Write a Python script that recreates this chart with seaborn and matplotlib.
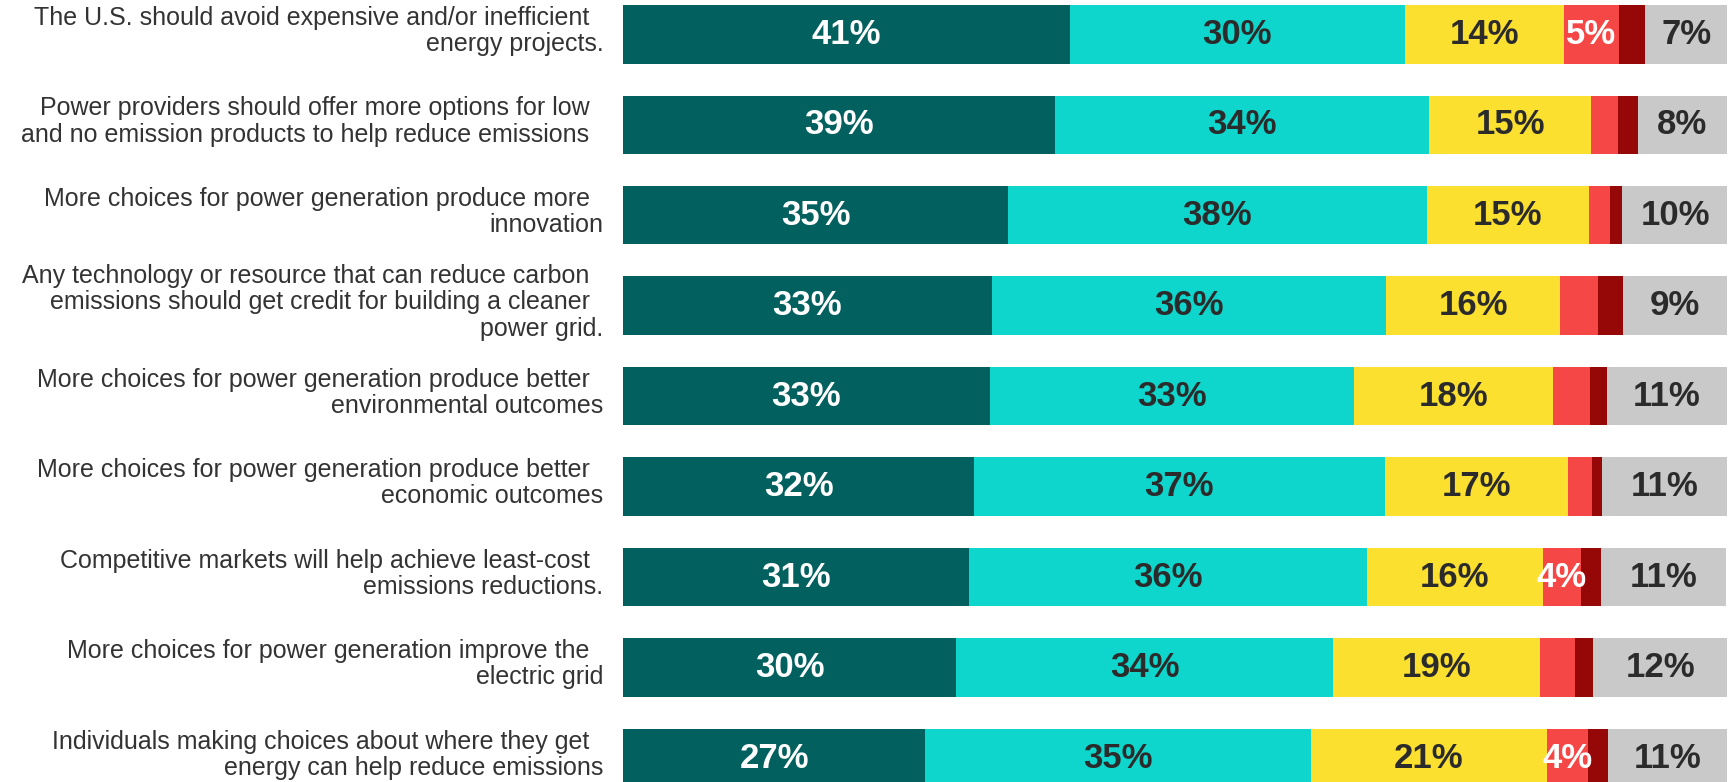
import numpy as np
import pandas as pd
import matplotlib
matplotlib.use("Agg")
import matplotlib.pyplot as plt
import matplotlib.transforms as mtransforms
import seaborn as sns

## data (share of respondents, %)

statements = [
    "The U.S. should avoid expensive and/or inefficient  \nenergy projects.",
    "Power providers should offer more options for low  \nand no emission products to help reduce emissions  ",
    "More choices for power generation produce more  \ninnovation",
    "Any technology or resource that can reduce carbon  \nemissions should get credit for building a cleaner  \npower grid.",
    "More choices for power generation produce better  \nenvironmental outcomes",
    "More choices for power generation produce better  \neconomic outcomes",
    "Competitive markets will help achieve least-cost  \nemissions reductions.",
    "More choices for power generation improve the  \nelectric grid",
    "Individuals making choices about where they get  \nenergy can help reduce emissions",
]

strongly_agree = [40.5, 39.1, 34.9, 33.4, 33.2, 31.8, 31.3, 30.2, 27.4]
somewhat_agree = [30.3, 33.9, 37.9, 35.7, 33.0, 37.2, 36.1, 34.1, 34.9]
neutral = [14.4, 14.7, 14.7, 15.8, 18.0, 16.6, 15.9, 18.8, 21.4]
somewhat_disagree = [5.0, 2.4, 1.9, 3.4, 3.4, 2.2, 3.5, 3.1, 3.7]
strongly_disagree = [2.4, 1.8, 1.1, 2.3, 1.5, 0.9, 1.8, 1.7, 1.8]
dont_know = [7.5, 8.1, 9.6, 9.4, 10.9, 11.3, 11.3, 12.2, 10.8]

# printed labels (small segments are left unlabeled in the original)
strongly_agree_lbl = ["41%", "39%", "35%", "33%", "33%", "32%", "31%", "30%", "27%"]
somewhat_agree_lbl = ["30%", "34%", "38%", "36%", "33%", "37%", "36%", "34%", "35%"]
neutral_lbl = ["14%", "15%", "15%", "16%", "18%", "17%", "16%", "19%", "21%"]
somewhat_disagree_lbl = ["5%", "", "", "", "", "", "4%", "", "4%"]
strongly_disagree_lbl = ["", "", "", "", "", "", "", "", ""]
dont_know_lbl = ["7%", "8%", "10%", "9%", "11%", "11%", "11%", "12%", "11%"]

values = [strongly_agree, somewhat_agree, neutral, somewhat_disagree, strongly_disagree, dont_know]
labels = [strongly_agree_lbl, somewhat_agree_lbl, neutral_lbl, somewhat_disagree_lbl,
          strongly_disagree_lbl, dont_know_lbl]
colors = ["#02605E", "#0FD6CC", "#FCE030", "#F64747", "#960808", "#C9C9C9"]
text_colors = ["white", "#2B2B2B", "#2B2B2B", "white", "white", "#2B2B2B"]

## plot

sns.set_style("white")
plt.rcParams['font.family'] = ['Liberation Sans', 'DejaVu Sans']

fig, ax = plt.subplots(figsize=(17.36, 7.82), dpi=100)
fig.subplots_adjust(left=623 / 1736, right=1727 / 1736, top=1, bottom=0)

# stacked bars: draw cumulative totals from the last segment back to the first
cum = np.cumsum(np.array(values), axis=0)
df = pd.DataFrame({"statement": statements})
for i in reversed(range(len(values))):
    df["cum"] = cum[i]
    sns.barplot(data=df, x="cum", y="statement", orient="h", color=colors[i],
                saturation=1, width=0.646, linewidth=0, ax=ax)

# percentage labels in the middle of each segment
for i in range(len(values)):
    starts = cum[i] - np.array(values[i])
    for row, (s, v, lbl) in enumerate(zip(starts, values[i], labels[i])):
        if lbl:
            ax.text(s + v / 2, row, lbl, ha="center", va="center", fontsize=25,
                    fontweight="bold", color=text_colors[i])

ax.set_xlim(0, 100)
ax.set_ylim(8.265, -0.379)
ax.set_xlabel("")
ax.set_ylabel("")
ax.set_xticks([])
ax.tick_params(axis="y", length=0, pad=14, labelsize=18, labelcolor="#333333")
# statements sit a little above the bar centre in the original
shift_up = mtransforms.ScaledTranslation(0, 5 / 72, fig.dpi_scale_trans)
for lab in ax.get_yticklabels():
    lab.set_linespacing(1.12)
    lab.set_transform(lab.get_transform() + shift_up)
sns.despine(left=True, bottom=True)

plt.savefig("out.png", dpi=100)
